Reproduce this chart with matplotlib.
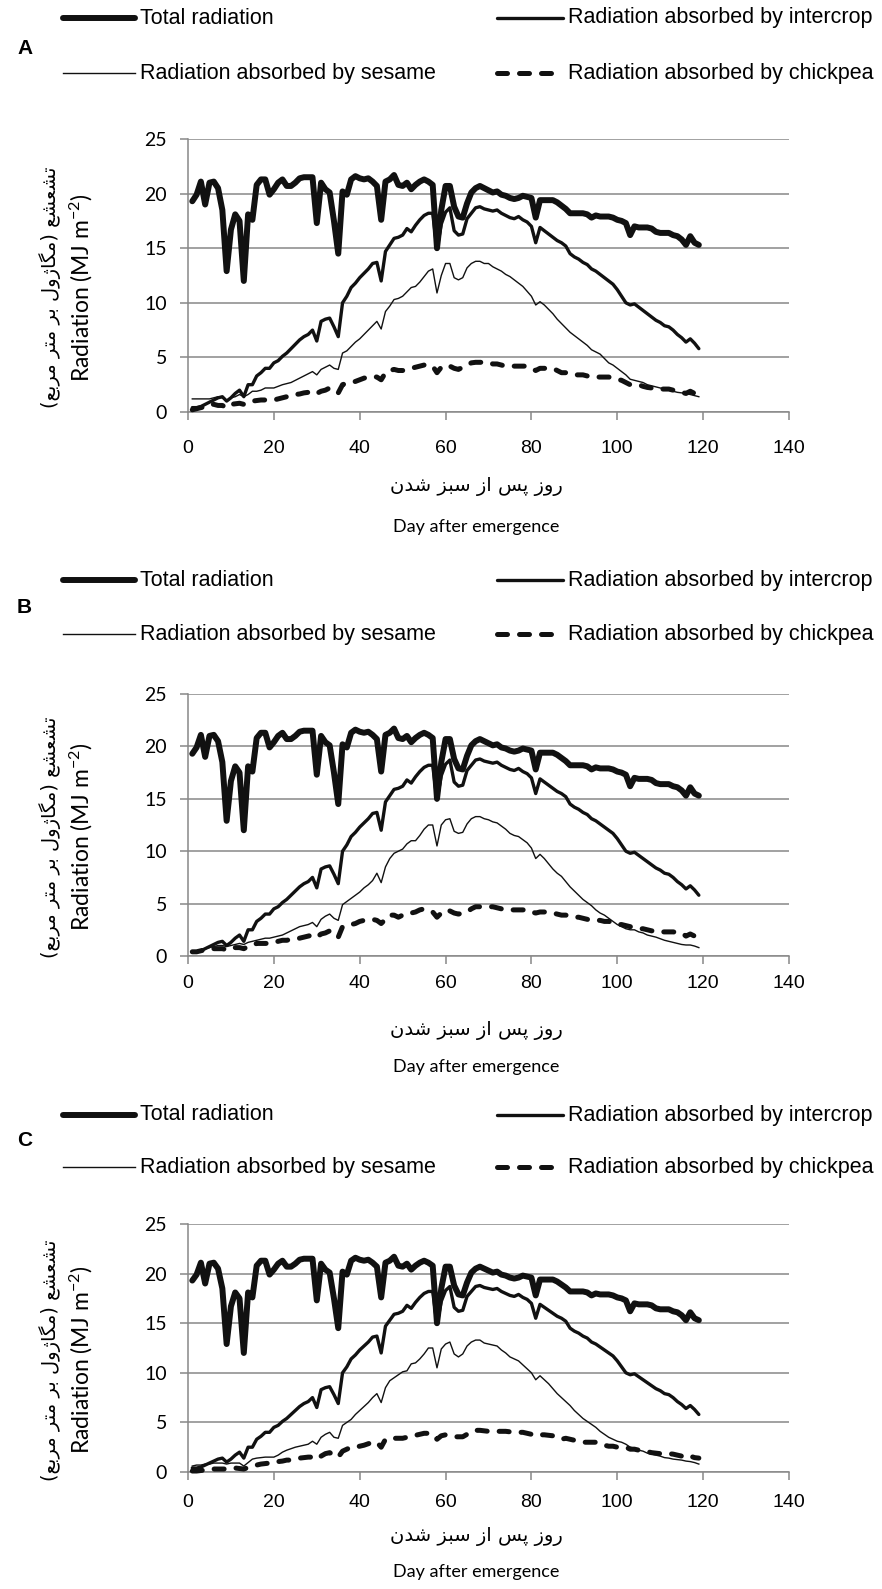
import numpy as np
import matplotlib
matplotlib.use("Agg")
import matplotlib.pyplot as plt
from matplotlib.lines import Line2D

plt.rcParams["mathtext.default"] = "regular"

W, H = 882, 1589

# ---- data (MJ m-2 per day, day 1..119) ----
total_rad = [
    19.3, 19.9, 21.1, 19.0, 21.0, 21.1, 20.5, 18.5, 12.9, 16.7,
    18.1, 17.5, 12.0, 18.1, 17.6, 20.8, 21.3, 21.3, 19.9, 20.4,
    21.0, 21.3, 20.7, 20.7, 21.0, 21.4, 21.5, 21.5, 21.5, 17.3,
    21.0, 20.4, 20.1, 17.5, 14.5, 20.2, 19.9, 21.3, 21.6, 21.4,
    21.3, 21.4, 21.1, 20.7, 17.6, 21.1, 21.3, 21.7, 20.8, 20.7,
    21.0, 20.4, 20.8, 21.1, 21.3, 21.1, 20.8, 15.0, 18.5, 20.7,
    20.7, 18.8, 17.9, 17.8, 19.1, 20.1, 20.5, 20.7, 20.5, 20.3,
    20.1, 20.2, 19.9, 19.8, 19.6, 19.5, 19.6, 19.8, 19.7, 19.6,
    17.8, 19.4, 19.4, 19.4, 19.4, 19.2, 18.9, 18.6, 18.2, 18.2,
    18.2, 18.2, 18.1, 17.8, 18.0, 17.9, 17.9, 17.9, 17.8, 17.6,
    17.5, 17.3, 16.2, 17.0, 16.9, 16.9, 16.9, 16.8, 16.5, 16.4,
    16.4, 16.4, 16.2, 16.1, 15.8, 15.3, 16.1, 15.5, 15.3,
]

intercrop = [
    0.4, 0.4, 0.5, 0.7, 0.9, 1.1, 1.3, 1.4, 1.0, 1.3,
    1.7, 2.0, 1.4, 2.5, 2.5, 3.3, 3.6, 4.0, 4.0, 4.5,
    4.7, 5.1, 5.4, 5.8, 6.2, 6.6, 6.9, 7.1, 7.5, 6.5,
    8.3, 8.5, 8.6, 7.8, 6.9, 10.0, 10.6, 11.4, 11.8, 12.3,
    12.7, 13.1, 13.6, 13.7, 12.0, 14.7, 15.3, 15.9, 16.0, 16.2,
    16.8, 16.5, 17.1, 17.6, 18.0, 18.2, 18.2, 14.9, 17.2, 18.3,
    18.7, 16.6, 16.2, 16.3, 17.7, 18.2, 18.7, 18.8, 18.6, 18.5,
    18.4, 18.5, 18.2, 18.0, 17.8, 17.7, 17.9, 17.6, 17.4, 17.0,
    15.5, 16.9, 16.6, 16.3, 16.0, 15.7, 15.5, 15.2, 14.5, 14.2,
    14.0, 13.7, 13.5, 13.1, 12.9, 12.6, 12.3, 12.0, 11.7, 11.2,
    10.6, 10.0, 9.8, 9.9, 9.6, 9.3, 9.0, 8.7, 8.4, 8.2,
    7.9, 7.8, 7.5, 7.1, 6.8, 6.4, 6.7, 6.3, 5.8,
]

sesame_a = [
    1.2, 1.2, 1.2, 1.2, 1.2, 1.3, 1.4, 1.3, 1.0, 1.3,
    1.4, 1.6, 1.4, 1.6, 1.9, 1.9, 2.0, 2.2, 2.2, 2.2,
    2.35, 2.5, 2.6, 2.7, 2.9, 3.1, 3.3, 3.5, 3.7, 3.4,
    3.9, 4.1, 4.3, 4.0, 3.9, 5.4, 5.6, 6.0, 6.4, 6.7,
    7.1, 7.5, 7.9, 8.3, 7.6, 9.2, 9.7, 10.3, 10.4, 10.6,
    11.0, 11.4, 11.5, 11.9, 12.4, 12.9, 13.1, 10.9, 12.5, 13.6,
    13.6, 12.3, 12.1, 12.3, 13.2, 13.6, 13.8, 13.8, 13.6, 13.6,
    13.3, 13.1, 12.9, 12.6, 12.4, 12.1, 11.8, 11.5, 11.05, 10.6,
    9.8, 10.1, 9.8, 9.4, 9.0, 8.5, 8.1, 7.7, 7.3, 7.0,
    6.7, 6.4, 6.1, 5.7, 5.5, 5.3, 4.9, 4.5, 4.3, 4.0,
    3.7, 3.4, 3.0, 2.9, 2.8, 2.7, 2.5, 2.4, 2.3, 2.2,
    2.1, 2.0, 1.9, 1.8, 1.75, 1.7, 1.6, 1.5, 1.4,
]

chickpea_a = [
    0.2, 0.3, 0.4, 0.5, 0.7, 0.7, 0.6, 0.6, 0.4, 0.7,
    0.75, 0.8, 0.7, 0.9, 1.0, 1.05, 1.1, 1.1, 1.1, 1.1,
    1.2, 1.3, 1.4, 1.45, 1.6, 1.65, 1.75, 1.8, 1.9, 1.7,
    1.9, 2.0, 2.2, 2.0, 1.75, 2.5, 2.65, 2.7, 2.8, 2.95,
    3.1, 3.2, 3.25, 3.2, 2.95, 3.6, 3.8, 3.9, 3.8, 3.8,
    3.9, 4.0, 4.1, 4.2, 4.3, 4.3, 4.2, 3.6, 4.1, 4.3,
    4.2, 4.0, 3.9, 4.1, 4.3, 4.5, 4.55, 4.55, 4.55, 4.55,
    4.4, 4.4, 4.3, 4.2, 4.2, 4.2, 4.2, 4.2, 4.2, 4.0,
    3.8, 4.0, 4.0, 4.0, 4.0, 3.8, 3.6, 3.6, 3.5, 3.4,
    3.4, 3.4, 3.3, 3.2, 3.2, 3.2, 3.2, 3.2, 3.1, 3.0,
    2.9, 2.7, 2.5, 2.5, 2.5, 2.35, 2.25, 2.2, 2.1, 2.1,
    2.1, 2.1, 2.0, 1.9, 1.8, 1.7, 1.9, 1.7, 1.6,
]

sesame_b = [
    0.4, 0.5, 0.6, 0.7, 0.8, 0.9, 1.0, 1.0, 0.9, 1.0,
    1.1, 1.2, 1.1, 1.3, 1.4, 1.5, 1.6, 1.7, 1.7, 1.8,
    1.9, 2.0, 2.2, 2.4, 2.6, 2.8, 2.9, 3.0, 3.2, 2.8,
    3.5, 3.8, 4.0, 3.6, 3.4, 4.9, 5.2, 5.5, 5.8, 6.1,
    6.5, 6.8, 7.2, 7.9, 7.0, 8.5, 9.3, 9.8, 10.0, 10.2,
    10.7, 11.0, 11.0, 11.5, 12.1, 12.5, 12.5, 10.5, 12.5, 13.0,
    13.1, 11.9, 11.7, 11.8, 12.6, 13.1, 13.3, 13.3, 13.1, 13.0,
    12.8, 12.7, 12.4, 12.1, 11.7, 11.5, 11.4, 11.1, 10.8, 10.3,
    9.3, 9.7, 9.3, 8.8, 8.3, 7.9, 7.6, 7.1, 6.6, 6.2,
    5.8, 5.4, 5.1, 4.8, 4.4, 4.1, 3.9, 3.6, 3.3, 3.0,
    2.8, 2.6, 2.5, 2.5, 2.3, 2.2, 2.0, 1.9, 1.8, 1.65,
    1.5, 1.4, 1.3, 1.2, 1.1, 1.05, 1.05, 0.95, 0.8,
]

chickpea_b = [
    0.4, 0.4, 0.5, 0.6, 0.6, 0.7, 0.7, 0.7, 0.6, 0.8,
    0.8, 0.8, 0.7, 0.9, 1.0, 1.2, 1.2, 1.2, 1.2, 1.3,
    1.4, 1.5, 1.5, 1.6, 1.6, 1.7, 1.8, 1.9, 2.0, 1.8,
    2.1, 2.2, 2.4, 2.0, 1.8, 2.8, 2.9, 3.0, 3.1, 3.3,
    3.4, 3.4, 3.5, 3.4, 3.1, 3.5, 3.9, 3.9, 3.7, 3.9,
    4.1, 4.1, 4.2, 4.4, 4.5, 4.4, 4.2, 3.7, 4.1, 4.4,
    4.3, 4.1, 4.0, 4.1, 4.2, 4.5, 4.7, 4.7, 4.7, 4.7,
    4.7, 4.6, 4.5, 4.4, 4.4, 4.4, 4.4, 4.4, 4.4, 4.2,
    4.1, 4.2, 4.2, 4.2, 4.1, 4.0, 3.9, 3.9, 3.8, 3.7,
    3.7, 3.6, 3.5, 3.4, 3.4, 3.4, 3.3, 3.3, 3.2, 3.0,
    3.0, 2.9, 2.8, 2.7, 2.6, 2.6, 2.5, 2.4, 2.4, 2.3,
    2.3, 2.3, 2.3, 2.25, 2.2, 1.9, 2.1, 1.9, 1.8,
]

sesame_c = [
    0.6, 0.7, 0.7, 0.8, 0.8, 0.9, 0.9, 0.9, 0.8, 0.9,
    0.9, 0.9, 0.6, 0.95, 1.3, 1.4, 1.45, 1.5, 1.5, 1.5,
    1.7, 2.0, 2.2, 2.35, 2.5, 2.6, 2.7, 2.8, 3.1, 2.8,
    3.5, 3.8, 4.0, 3.5, 3.4, 4.7, 5.0, 5.3, 5.8, 6.2,
    6.6, 7.0, 7.5, 7.9, 7.0, 8.5, 9.2, 9.5, 9.8, 10.1,
    10.2, 10.9, 11.0, 11.4, 11.9, 12.5, 12.5, 10.5, 12.4, 12.9,
    13.1, 11.9, 11.6, 11.9, 12.7, 13.1, 13.3, 13.3, 13.0, 12.9,
    12.8, 12.7, 12.3, 12.0, 11.6, 11.4, 11.2, 10.8, 10.4, 10.0,
    9.3, 9.7, 9.3, 8.9, 8.4, 7.9, 7.5, 7.1, 6.7, 6.2,
    5.8, 5.4, 5.1, 4.8, 4.5, 4.1, 3.8, 3.5, 3.3, 3.1,
    3.0, 2.8, 2.5, 2.4, 2.2, 2.1, 1.9, 1.8, 1.7, 1.6,
    1.45, 1.4, 1.3, 1.25, 1.2, 1.1, 1.05, 0.95, 0.8,
]

chickpea_c = [
    0.1, 0.1, 0.15, 0.2, 0.2, 0.3, 0.3, 0.3, 0.3, 0.3,
    0.4, 0.35, 0.3, 0.45, 0.6, 0.7, 0.8, 0.85, 0.9, 0.9,
    1.05, 1.1, 1.2, 1.2, 1.3, 1.4, 1.45, 1.5, 1.5, 1.3,
    1.6, 1.85, 1.95, 1.7, 1.5, 2.1, 2.3, 2.5, 2.5, 2.6,
    2.7, 2.85, 3.0, 3.0, 2.5, 3.3, 3.4, 3.4, 3.4, 3.4,
    3.5, 3.65, 3.7, 3.8, 3.9, 3.9, 3.8, 3.3, 3.65, 3.75,
    3.65, 3.55, 3.55, 3.55, 3.8, 4.1, 4.2, 4.2, 4.15, 4.1,
    4.1, 4.1, 4.1, 4.1, 4.05, 4.05, 4.0, 4.0, 3.9, 3.8,
    3.65, 3.75, 3.75, 3.7, 3.65, 3.5, 3.3, 3.4, 3.3, 3.2,
    3.1, 3.0, 3.0, 3.0, 3.0, 2.9, 2.7, 2.6, 2.6, 2.5,
    2.5, 2.5, 2.3, 2.3, 2.2, 2.1, 2.05, 1.95, 1.9, 1.85,
    1.85, 1.85, 1.8, 1.7, 1.6, 1.45, 1.6, 1.45, 1.4,
]

panel_letters = ["A", "B", "C"]
series_labels = ["Total radiation", "Radiation absorbed by intercrop",
                 "Radiation absorbed by sesame", "Radiation absorbed by chickpea"]
x_ticks = [0, 20, 40, 60, 80, 100, 120, 140]
y_ticks = [0, 5, 10, 15, 20, 25]

# ---- simple Persian shaping (presentation forms, visual order) ----
FORMS = {
    'ا': ('\uFE8D', '\uFE8E', None, None),
    'ب': ('\uFE8F', '\uFE90', '\uFE91', '\uFE92'),
    'پ': ('\uFB56', '\uFB57', '\uFB58', '\uFB59'),
    'ت': ('\uFE95', '\uFE96', '\uFE97', '\uFE98'),
    'د': ('\uFEA9', '\uFEAA', None, None),
    'ر': ('\uFEAD', '\uFEAE', None, None),
    'ز': ('\uFEAF', '\uFEB0', None, None),
    'ژ': ('\uFB8A', '\uFB8B', None, None),
    'س': ('\uFEB1', '\uFEB2', '\uFEB3', '\uFEB4'),
    'ش': ('\uFEB5', '\uFEB6', '\uFEB7', '\uFEB8'),
    'ع': ('\uFEC9', '\uFECA', '\uFECB', '\uFECC'),
    'گ': ('\uFB92', '\uFB93', '\uFB94', '\uFB95'),
    'ل': ('\uFEDD', '\uFEDE', '\uFEDF', '\uFEE0'),
    'م': ('\uFEE1', '\uFEE2', '\uFEE3', '\uFEE4'),
    'ن': ('\uFEE5', '\uFEE6', '\uFEE7', '\uFEE8'),
    'و': ('\uFEED', '\uFEEE', None, None),
}


def shape_fa(text):
    out = []
    for i, ch in enumerate(text):
        f = FORMS.get(ch)
        if f is None:
            out.append(ch)
            continue
        prev = text[i - 1] if i > 0 else ''
        nxt = text[i + 1] if i + 1 < len(text) else ''
        jp = prev in FORMS and FORMS[prev][2] is not None
        jn = f[2] is not None and nxt in FORMS
        out.append(f[3] if (jp and jn) else f[1] if jp else f[2] if jn else f[0])
    vis = ''.join(reversed(out))
    return vis.translate(str.maketrans('()', ')('))


ylabel_fa = shape_fa("تشعشع (مگاژول بر متر مربع)")
xlabel_fa = shape_fa("روز پس از سبز شدن")

NARROW = ['Liberation Sans', 'DejaVu Sans']
MAIN = ['Lato', 'DejaVu Sans']
FA = ['DejaVu Sans']
INK = '#111111'
GRID = '#888888'

STYLES = [
    dict(lw=4.3, color=INK, solid_capstyle='round', solid_joinstyle='round'),
    dict(lw=2.4, color=INK, solid_capstyle='round', solid_joinstyle='round'),
    dict(lw=1.0, color=INK, solid_joinstyle='round'),
    dict(lw=3.6, color=INK, linestyle=(0, (2.0, 2.4)), dash_capstyle='round',
         dash_joinstyle='round'),
]


def fx(px):
    return px / W


def fy(py):
    return 1 - py / H


fig = plt.figure(figsize=(W / 100, H / 100), dpi=100)

# per panel pixel layout: axes top, axes bottom, legend rows, tick/label rows
panels = [
    dict(top=139, bot=412, leg=(18, 73), letter=49, xpad=14, xfa=487, xen=527,
         ses=sesame_a, chk=chickpea_a),
    dict(top=694, bot=956, leg=(580, 634), letter=608, xpad=8, xfa=1031,
         xen=1067, ses=sesame_b, chk=chickpea_b),
    dict(top=1224, bot=1472, leg=(1115, 1167), letter=1141, xpad=10, xfa=1536,
         xen=1572, ses=sesame_c, chk=chickpea_c),
]

left, right = 188, 789

for letter, p in zip(panel_letters, panels):
    ax = fig.add_axes([fx(left), fy(p["bot"]), fx(right - left),
                       (p["bot"] - p["top"]) / H])
    data = [total_rad, intercrop, p["ses"], p["chk"]]
    for s, st in zip(data, STYLES):
        ax.plot(np.arange(1, len(s) + 1), s, clip_on=False, zorder=3, **st)

    ax.set_xlim(0, 140)
    ax.set_ylim(0, 25)
    ax.set_xticks(x_ticks)
    ax.set_yticks(y_ticks)
    ax.yaxis.grid(True, color=GRID, lw=1.1)
    ax.set_axisbelow(True)
    for side in ["top", "right"]:
        ax.spines[side].set_visible(False)
    for side in ["left", "bottom"]:
        ax.spines[side].set_color(GRID)
        ax.spines[side].set_linewidth(1.1)
    ax.tick_params(axis="both", direction="out", length=6, width=1.1,
                   color=GRID)
    ax.tick_params(axis="x", pad=p["xpad"])
    ax.tick_params(axis="y", pad=9)
    for t in ax.get_xticklabels():
        t.set_fontfamily(NARROW)
        t.set_fontsize(14)
    for t in ax.get_yticklabels():
        t.set_fontfamily(MAIN)
        t.set_fontsize(14)

    # axis titles (Persian + English)
    yc = (p["top"] + p["bot"]) / 2 + 12
    fig.text(fx(50), fy(yc), ylabel_fa, rotation=90, ha="center", va="center",
             family=FA, fontsize=14)
    fig.text(fx(81), fy(yc), "Radiation (MJ m$^{-2}$)", rotation=90,
             ha="center", va="center", family=MAIN, fontsize=16.5)
    fig.text(fx(476), fy(p["xfa"]), xlabel_fa, ha="center", va="center",
             family=FA, fontsize=14)
    fig.text(fx(476), fy(p["xen"]), "Day after emergence", ha="center",
             va="center", family=MAIN, fontsize=13)

    # panel letter
    fig.text(fx(17), fy(p["letter"]), letter, ha="left", va="center",
             family=NARROW, fontsize=15, fontweight="bold")

    # legend, two columns
    slots = [(63, 135, p["leg"][0]), (497, 563, p["leg"][0]),
             (63, 135, p["leg"][1]), (497, 563, p["leg"][1])]
    for (x0, x1, yy), st, lab in zip(slots, STYLES, series_labels):
        fig.add_artist(Line2D([fx(x0), fx(x1)], [fy(yy), fy(yy)],
                              transform=fig.transFigure, **st))
        fig.text(fx(x1 + 5), fy(yy), lab, ha="left", va="center",
                 family=NARROW, fontsize=15.5)

fig.savefig("out.png", dpi=100)
